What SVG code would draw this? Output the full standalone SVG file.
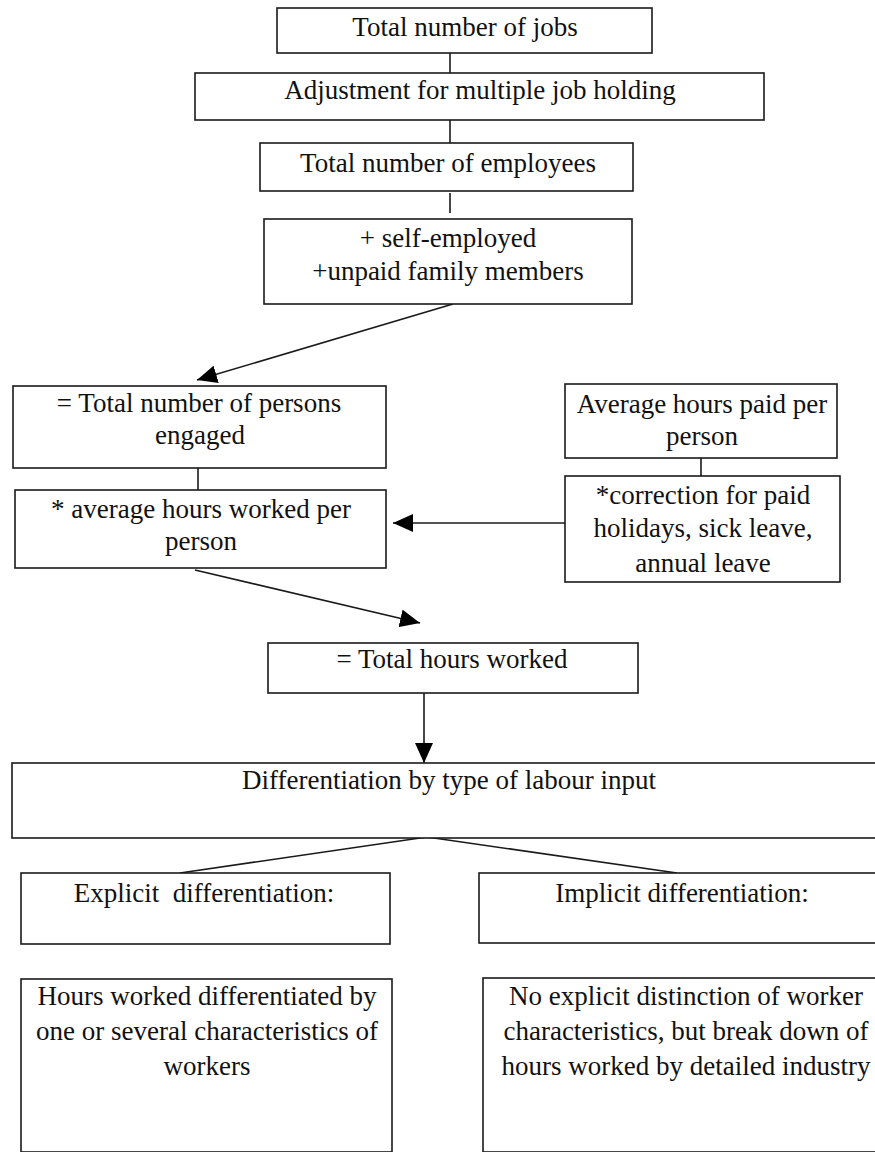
<svg xmlns="http://www.w3.org/2000/svg" width="875" height="1152" viewBox="0 0 875 1152">
  <style>
    .box { fill: #ffffff; stroke: #1a1a1a; stroke-width: 1.6; }
    .lbl { font-family: "Liberation Serif", "Times New Roman", serif; font-size: 27px; fill: #111111; text-anchor: middle; white-space: pre; }
    .link { stroke: #1a1a1a; stroke-width: 1.6; fill: none; }
  </style>
  <defs>
    <marker id="arrow" markerUnits="userSpaceOnUse" markerWidth="22" markerHeight="18" refX="20" refY="9" orient="auto">
      <path d="M0,0 L20,9 L0,18 Z" fill="#000000"/>
    </marker>
  </defs>

  <rect width="875" height="1152" fill="#ffffff"/>

  <!-- connectors -->
  <g id="connectors">
    <line class="link" x1="450" y1="53" x2="450" y2="73"/>
    <line class="link" x1="450" y1="120" x2="450" y2="143"/>
    <line class="link" x1="450" y1="193" x2="450" y2="213"/>
    <line class="link" x1="453" y1="304" x2="197" y2="380" marker-end="url(#arrow)"/>
    <line class="link" x1="198" y1="468" x2="198" y2="490"/>
    <line class="link" x1="701" y1="458" x2="701" y2="476"/>
    <line class="link" x1="570" y1="523" x2="393" y2="523" marker-end="url(#arrow)"/>
    <line class="link" x1="195" y1="570" x2="420" y2="623" marker-end="url(#arrow)"/>
    <line class="link" x1="424" y1="687" x2="424" y2="763" marker-end="url(#arrow)"/>
    <line class="link" x1="427" y1="837" x2="180" y2="873"/>
    <line class="link" x1="427" y1="837" x2="677" y2="873"/>
  </g>

  <g id="jobs">
    <rect class="box" x="277" y="8" width="375" height="45"/>
    <text class="lbl" x="465" y="36">Total number of jobs</text>
  </g>

  <g id="adjustment">
    <rect class="box" x="195" y="73" width="569" height="47"/>
    <text class="lbl" x="480" y="99">Adjustment for multiple job holding</text>
  </g>

  <g id="employees">
    <rect class="box" x="260" y="143" width="373" height="48"/>
    <text class="lbl" x="448" y="172">Total number of employees</text>
  </g>

  <g id="self-employed">
    <rect class="box" x="264" y="219" width="368" height="85"/>
    <text class="lbl" x="448" y="247">+ self-employed</text>
    <text class="lbl" x="448" y="280">+unpaid family members</text>
  </g>

  <g id="persons-engaged">
    <rect class="box" x="13" y="386" width="373" height="82"/>
    <text class="lbl" x="199" y="412">= Total number of persons</text>
    <text class="lbl" x="200" y="444">engaged</text>
  </g>

  <g id="hours-worked-per-person">
    <rect class="box" x="15" y="490" width="371" height="78"/>
    <text class="lbl" x="201" y="518">* average hours worked per</text>
    <text class="lbl" x="201" y="550">person</text>
  </g>

  <g id="hours-paid">
    <rect class="box" x="565" y="384" width="272" height="74"/>
    <text class="lbl" x="702" y="413">Average hours paid per</text>
    <text class="lbl" x="702" y="445">person</text>
  </g>

  <g id="correction">
    <rect class="box" x="565" y="476" width="275" height="106"/>
    <text class="lbl" x="703" y="504">*correction for paid</text>
    <text class="lbl" x="703" y="537">holidays, sick leave,</text>
    <text class="lbl" x="703" y="572">annual leave</text>
  </g>

  <g id="total-hours">
    <rect class="box" x="268" y="643" width="370" height="50"/>
    <text class="lbl" x="452" y="668">= Total hours worked</text>
  </g>

  <g id="differentiation">
    <rect class="box" x="12" y="763" width="870" height="75"/>
    <text class="lbl" x="449" y="789">Differentiation by type of labour input</text>
  </g>

  <g id="explicit">
    <rect class="box" x="21" y="873" width="369" height="71"/>
    <text class="lbl" x="204" y="902">Explicit  differentiation:</text>
  </g>

  <g id="implicit">
    <rect class="box" x="479" y="873" width="403" height="70"/>
    <text class="lbl" x="682" y="902">Implicit differentiation:</text>
  </g>

  <g id="explicit-detail">
    <rect class="box" x="21" y="979" width="371" height="173"/>
    <text class="lbl" x="207" y="1005">Hours worked differentiated by</text>
    <text class="lbl" x="207" y="1040">one or several characteristics of</text>
    <text class="lbl" x="207" y="1075">workers</text>
  </g>

  <g id="implicit-detail">
    <rect class="box" x="483" y="978" width="399" height="174"/>
    <text class="lbl" x="686" y="1005">No explicit distinction of worker</text>
    <text class="lbl" x="686" y="1040">characteristics, but break down of</text>
    <text class="lbl" x="686" y="1075">hours worked by detailed industry</text>
  </g>
</svg>
